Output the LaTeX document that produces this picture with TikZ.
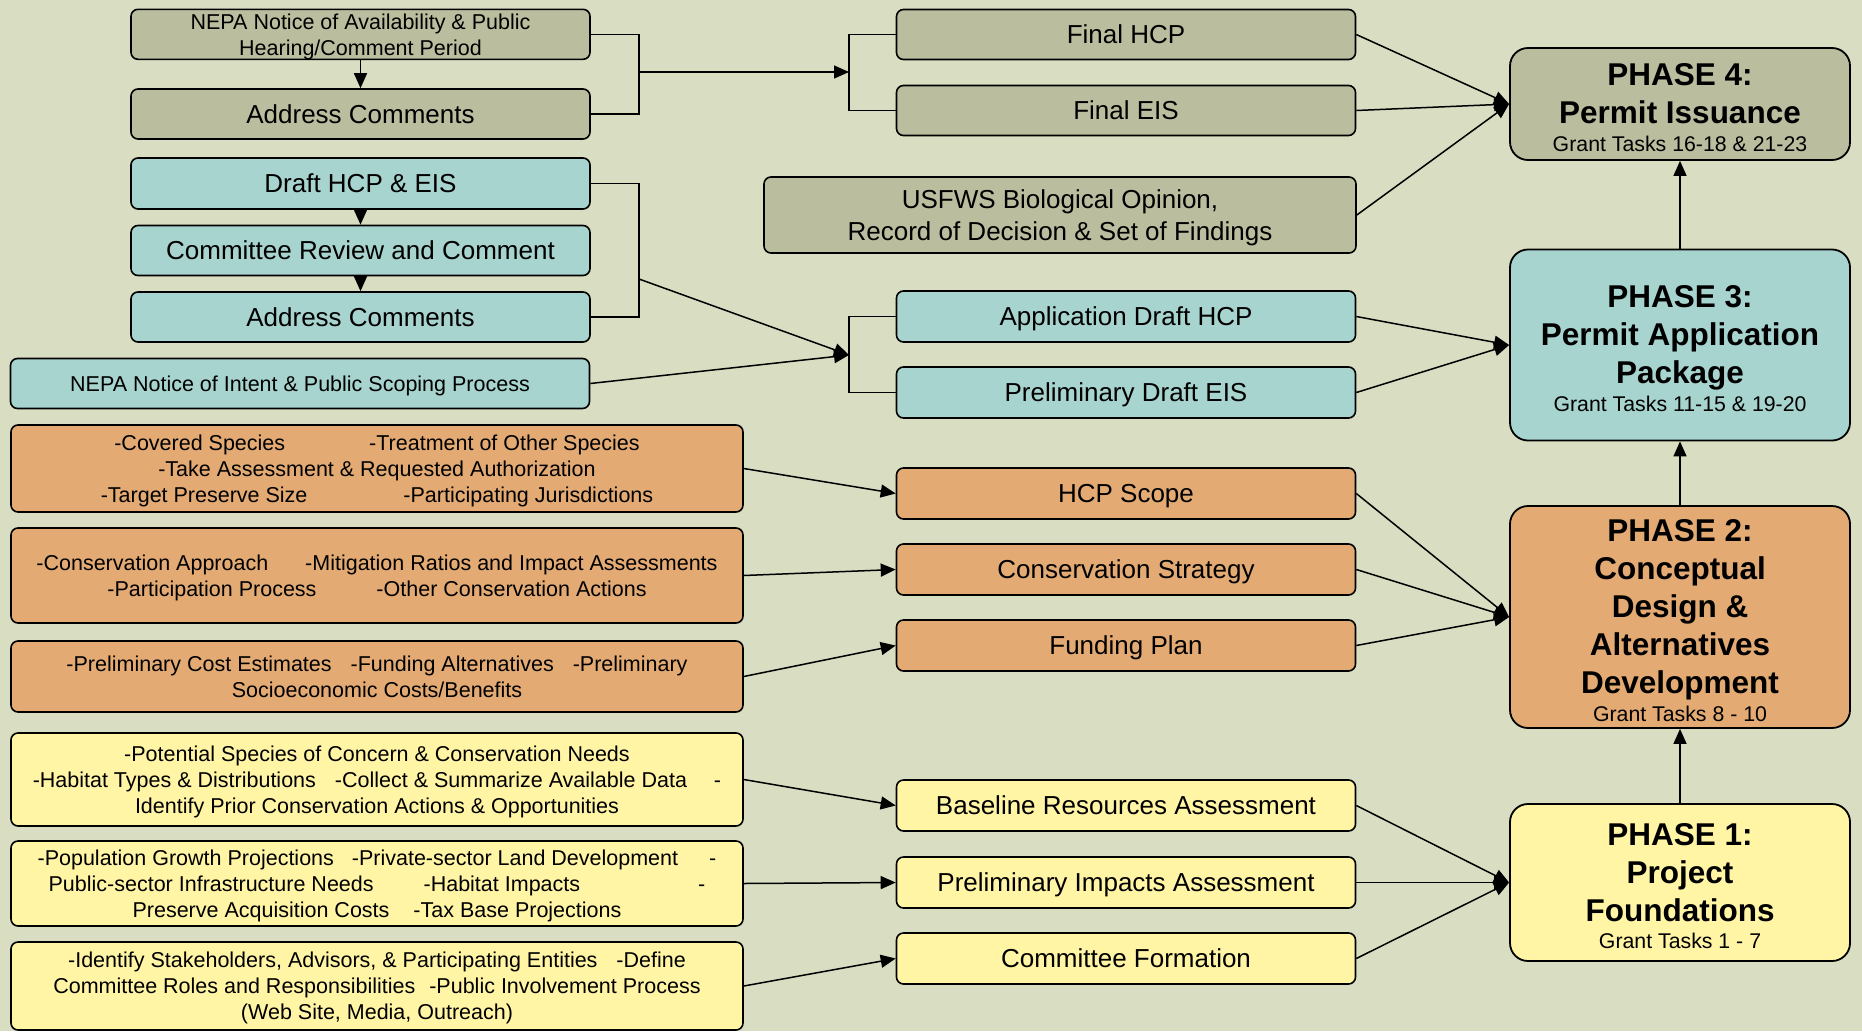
\documentclass[tikz,border=0pt]{standalone}
\usepackage{fontspec}
\setmainfont{Liberation Sans}
\usetikzlibrary{arrows.meta}

\definecolor{bgkhaki}{RGB}{217,221,193}
\definecolor{olivebox}{RGB}{187,190,158}
\definecolor{tealbox}{RGB}{167,212,207}
\definecolor{orangebox}{RGB}{227,170,115}
\definecolor{yellowbox}{RGB}{255,245,165}

\tikzset{
  box/.style={draw=black, line width=1.6pt, rounded corners=7pt, inner sep=0pt, align=center, text depth=0pt},
  smalltxt/.style={font=\fontsize{21.5}{26}\selectfont},
  bigtxt/.style={font=\fontsize{26}{32}\selectfont},
  phase/.style={draw=black, line width=1.8pt, rounded corners=18pt, inner sep=0pt, align=center,
    minimum width=340pt, font=\fontsize{31.5}{38}\selectfont\bfseries},
  link/.style={line width=1.5pt},
  arr/.style={line width=1.5pt, -{Triangle[length=15pt,width=13pt]}}
}
\newcommand{\tasks}[1]{{\fontsize{21.3}{26}\selectfont\mdseries #1}}

\begin{document}
\begin{tikzpicture}[x=1pt, y=-1pt]
\useasboundingbox (0,0) rectangle (1862,1031);
\fill[bgkhaki] (0,0) rectangle (1862,1031);

% left column, upper part
\node[box, smalltxt, fill=olivebox, minimum width=459pt, minimum height=50pt] (nepaAvail) at (360.5,34.3) {NEPA Notice of Availability \& Public\\ Hearing/Comment Period};
\node[box, bigtxt, fill=olivebox, minimum width=459pt, minimum height=50pt] (addrFinal) at (360.5,114) {Address Comments};
\node[box, bigtxt, fill=tealbox, minimum width=459pt, minimum height=51pt] (draftHcp) at (360.5,183.5) {Draft HCP \& EIS};
\node[box, bigtxt, fill=tealbox, minimum width=459pt, minimum height=50pt] (review) at (360.5,250.5) {Committee Review and Comment};
\node[box, bigtxt, fill=tealbox, minimum width=459pt, minimum height=50pt] (addrDraft) at (360.5,317) {Address Comments};
\node[box, smalltxt, fill=tealbox, minimum width=579pt, minimum height=50pt] (nepaIntent) at (300,383.5) {NEPA Notice of Intent \& Public Scoping Process};

% left column, task lists
\node[box, smalltxt, fill=orangebox, minimum width=732pt, minimum height=87pt] (scopeList) at (377,468.5) {-Covered Species\hspace{84pt}-Treatment of Other Species\\ -Take Assessment \& Requested Authorization\\ -Target Preserve Size\hspace{96pt}-Participating Jurisdictions};
\node[box, smalltxt, fill=orangebox, minimum width=732pt, minimum height=95pt] (strategyList) at (377,575.5) {-Conservation Approach\hspace{37pt}-Mitigation Ratios and Impact Assessments\\ -Participation Process\hspace{60pt}-Other Conservation Actions};
\node[box, smalltxt, fill=orangebox, minimum width=732pt, minimum height=71pt] (fundingList) at (377,676.5) {-Preliminary Cost Estimates\hspace{19pt}-Funding Alternatives\hspace{19pt}-Preliminary\\ Socioeconomic Costs/Benefits};
\node[box, smalltxt, fill=yellowbox, minimum width=732pt, minimum height=93pt] (baselineList) at (377,779.5) {-Potential Species of Concern \& Conservation Needs\\ -Habitat Types \& Distributions\hspace{19pt}-Collect \& Summarize Available Data\hspace{27pt}-\\ Identify Prior Conservation Actions \& Opportunities};
\node[box, smalltxt, fill=yellowbox, minimum width=732pt, minimum height=85pt] (impactList) at (377,883.5) {-Population Growth Projections\hspace{18pt}-Private-sector Land Development\hspace{31pt}-\\ Public-sector Infrastructure Needs\hspace{50pt}-Habitat Impacts\hspace{118pt}-\\ Preserve Acquisition Costs\hspace{24pt}-Tax Base Projections};
\node[box, smalltxt, fill=yellowbox, minimum width=732pt, minimum height=88pt] (committeeList) at (377,986) {-Identify Stakeholders, Advisors, \& Participating Entities\hspace{19pt}-Define\\ Committee Roles and Responsibilities\hspace{14pt}-Public Involvement Process\\ (Web Site, Media, Outreach)};

% middle column
\node[box, bigtxt, fill=olivebox, minimum width=459pt, minimum height=50pt] (finalHcp) at (1126,34.5) {Final HCP};
\node[box, bigtxt, fill=olivebox, minimum width=459pt, minimum height=50pt] (finalEis) at (1126,110.5) {Final EIS};
\node[box, bigtxt, fill=olivebox, minimum width=592pt, minimum height=76pt] (usfws) at (1060,215) {USFWS Biological Opinion,\\ Record of Decision \& Set of Findings};
\node[box, bigtxt, fill=tealbox, minimum width=459pt, minimum height=51pt] (appHcp) at (1126,316.5) {Application Draft HCP};
\node[box, bigtxt, fill=tealbox, minimum width=459pt, minimum height=51pt] (prelimEis) at (1126,392.5) {Preliminary Draft EIS};
\node[box, bigtxt, fill=orangebox, minimum width=459pt, minimum height=51pt] (hcpScope) at (1126,493.5) {HCP Scope};
\node[box, bigtxt, fill=orangebox, minimum width=459pt, minimum height=51pt] (consStrategy) at (1126,569.5) {Conservation Strategy};
\node[box, bigtxt, fill=orangebox, minimum width=459pt, minimum height=51pt] (fundPlan) at (1126,645.5) {Funding Plan};
\node[box, bigtxt, fill=yellowbox, minimum width=459pt, minimum height=51pt] (baseline) at (1126,805.5) {Baseline Resources Assessment};
\node[box, bigtxt, fill=yellowbox, minimum width=459pt, minimum height=51pt] (prelimImpacts) at (1126,882.5) {Preliminary Impacts Assessment};
\node[box, bigtxt, fill=yellowbox, minimum width=459pt, minimum height=51pt] (committee) at (1126,958.5) {Committee Formation};

% phases
\node[phase, fill=olivebox, minimum height=112pt] (phase4) at (1680,104) {\rule{0pt}{29pt}PHASE 4:\\ Permit Issuance\\[-10.5pt]\tasks{Grant Tasks 16-18 \& 21-23}};
\node[phase, fill=tealbox, minimum height=191pt] (phase3) at (1680,345) {\rule{0pt}{29pt}PHASE 3:\\ Permit Application\\ Package\\[-10.5pt]\tasks{Grant Tasks 11-15 \& 19-20}};
\node[phase, fill=orangebox, minimum height=222pt] (phase2) at (1680,617) {\rule{0pt}{29pt}PHASE 2:\\ Conceptual\\ Design \&\\ Alternatives\\ Development\\[-9.5pt]\tasks{Grant Tasks 8 - 10}};
\node[phase, fill=yellowbox, minimum height=157pt] (phase1) at (1680,882.5) {\rule{0pt}{29pt}PHASE 1:\\ Project\\ Foundations\\[-10.5pt]\tasks{Grant Tasks 1 - 7}};

% bracket points
\coordinate (finalFork) at (639,72);
\coordinate (finalJoin) at (849,72);
\coordinate (draftFork) at (639,279);
\coordinate (draftJoin) at (849,355);

% final documents
\draw[arr] (nepaAvail) -- (addrFinal);
\draw[link] (nepaAvail.east) -| (finalFork) |- (addrFinal.east);
\draw[arr] (finalFork) -- (finalJoin);
\draw[link] (finalHcp.west) -| (finalJoin) |- (finalEis.west);

% draft documents
\draw[arr] (draftHcp) -- (review);
\draw[arr] (review) -- (addrDraft);
\draw[link] (draftHcp.east) -| (draftFork) |- (addrDraft.east);
\draw[arr] (draftFork) -- (draftJoin);
\draw[arr] (nepaIntent.east) -- (draftJoin);
\draw[link] (appHcp.west) -| (draftJoin) |- (prelimEis.west);

% task lists into products
\draw[arr] (scopeList.east) -- (hcpScope.west);
\draw[arr] (strategyList.east) -- (consStrategy.west);
\draw[arr] (fundingList.east) -- (fundPlan.west);
\draw[arr] (baselineList.east) -- (baseline.west);
\draw[arr] (impactList.east) -- (prelimImpacts.west);
\draw[arr] (committeeList.east) -- (committee.west);

% products into phases
\draw[arr] (finalHcp.east) -- (phase4.west);
\draw[arr] (finalEis.east) -- (phase4.west);
\draw[arr] (usfws.east) -- (phase4.west);
\draw[arr] (appHcp.east) -- (phase3.west);
\draw[arr] (prelimEis.east) -- (phase3.west);
\draw[arr] (hcpScope.east) -- (phase2.west);
\draw[arr] (consStrategy.east) -- (phase2.west);
\draw[arr] (fundPlan.east) -- (phase2.west);
\draw[arr] (baseline.east) -- (phase1.west);
\draw[arr] (prelimImpacts.east) -- (phase1.west);
\draw[arr] (committee.east) -- (phase1.west);

% phase sequence
\draw[arr] (phase1) -- (phase2);
\draw[arr] (phase2) -- (phase3);
\draw[arr] (phase3) -- (phase4);

\end{tikzpicture}
\end{document}
